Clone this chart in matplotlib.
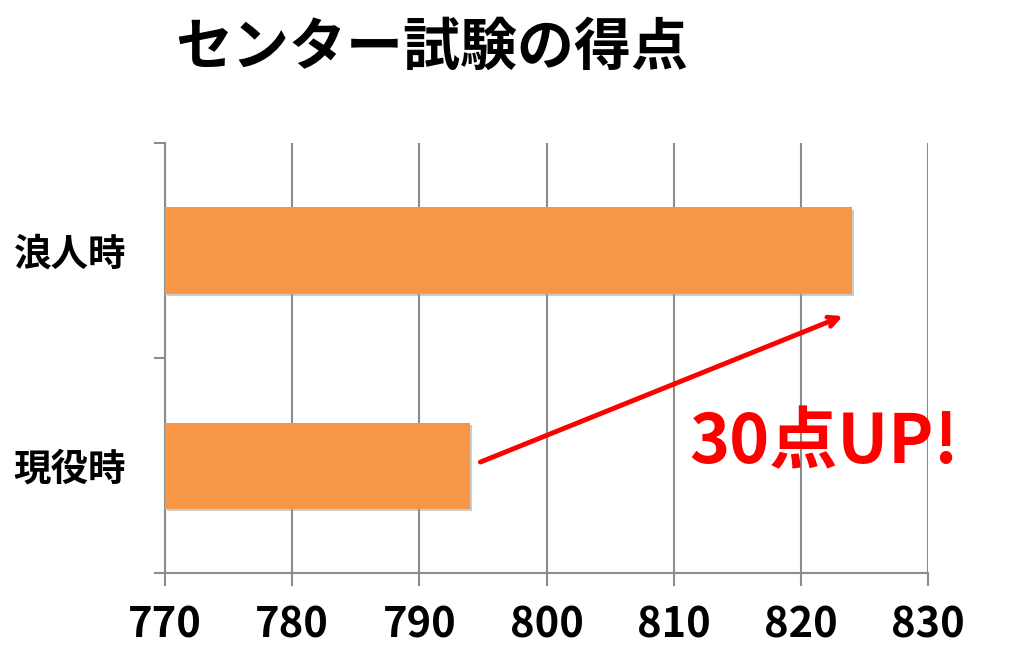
import matplotlib
matplotlib.use("Agg")
import matplotlib.pyplot as plt
import matplotlib.patheffects as pe

plt.rcParams['font.family'] = ['Noto Sans CJK JP', 'DejaVu Sans']

categories = ['現役時', '浪人時']
scores = [794, 824]
xticks = [770, 780, 790, 800, 810, 820, 830]
title = 'センター試験の得点'
note = '30点UP!'

fig = plt.figure(figsize=(10.24, 6.59), dpi=100)
ax = fig.add_axes([165/1024, 1-573/659, (928-165)/1024, (573-143)/659])

ypos = list(range(len(categories)))
left = xticks[0]
ax.barh(ypos, [s - left for s in scores], left=left, height=0.4, color='#F79646',
        path_effects=[pe.withSimplePatchShadow(offset=(1.5, -1.5), shadow_rgbFace='#999999', alpha=0.5)],
        zorder=3)

ax.set_xlim(xticks[0], xticks[-1])
ax.set_ylim(-0.5, len(categories) - 0.5)
ax.set_xticks(xticks)
ax.set_xticklabels([str(t) for t in xticks], fontsize=30, fontweight='bold')
ax.set_yticks(ypos)
ax.set_yticklabels(categories, fontsize=27, fontweight='bold')
ax.set_yticks([y - 0.5 for y in range(len(categories) + 1)], minor=True)

ax.tick_params(axis='y', which='major', length=0, pad=28)
ax.tick_params(axis='y', which='minor', length=8, width=1.5, color='#8c8c8c')
ax.tick_params(axis='x', which='major', length=9, width=1.5, color='#8c8c8c', pad=14)

ax.grid(axis='x', color='#8c8c8c', linewidth=1.5, zorder=0)
ax.set_axisbelow(True)
for s in ['top', 'right']:
    ax.spines[s].set_visible(False)
for s in ['left', 'bottom']:
    ax.spines[s].set_color('#8c8c8c')
    ax.spines[s].set_linewidth(1.5)

fig.text(432/1024, 1-48/659, title, fontsize=41, fontweight='bold', ha='center', va='center')

ax.annotate('', xy=(823.3, 0.695), xytext=(794.8, 0.016),
            arrowprops=dict(arrowstyle='->, head_length=0.7, head_width=0.35', color='#FF0000', lw=3.5,
                            shrinkA=0, shrinkB=0), zorder=5)
ax.text(821.8, 0.10, note, fontsize=49, fontweight='bold', color='#FF0000', ha='center', va='center', zorder=5)

fig.savefig('out.png', dpi=100)
